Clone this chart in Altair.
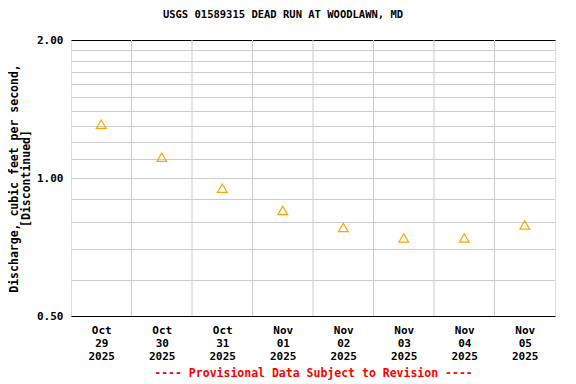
import altair as alt
import pandas as pd

# Daily mean discharge (cfs), plotted at noon of each day
dates = ["2025-10-29T12:00:00Z", "2025-10-30T12:00:00Z", "2025-10-31T12:00:00Z",
         "2025-11-01T12:00:00Z", "2025-11-02T12:00:00Z", "2025-11-03T12:00:00Z",
         "2025-11-04T12:00:00Z", "2025-11-05T12:00:00Z"]
discharge = [1.31, 1.11, 0.95, 0.85, 0.78, 0.74, 0.74, 0.79]

# day boundaries for vertical gridlines
day_bounds = ["2025-10-30T00:00:00Z", "2025-10-31T00:00:00Z", "2025-11-01T00:00:00Z",
              "2025-11-02T00:00:00Z", "2025-11-03T00:00:00Z", "2025-11-04T00:00:00Z",
              "2025-11-05T00:00:00Z"]

y_grid_values = [0.5, 0.6, 0.7, 0.8, 0.9, 1.0, 1.1, 1.2, 1.3, 1.4, 1.5,
                 1.6, 1.7, 1.8, 1.9, 2.0]
label_days = [(2025, 10, 29), (2025, 10, 30), (2025, 10, 31), (2025, 11, 1),
              (2025, 11, 2), (2025, 11, 3), (2025, 11, 4), (2025, 11, 5)]

df = pd.DataFrame({"date": dates, "q": discharge})
grid_df = pd.DataFrame({"date": day_bounds})

FONT = "DejaVu Sans Mono"

x_scale = alt.Scale(
    type="utc",
    domain=[alt.DateTime(year=2025, month=10, date=29, utc=True),
            alt.DateTime(year=2025, month=11, date=6, utc=True)],
)

x_axis = alt.Axis(
    values=[alt.DateTime(year=y, month=m, date=d, hours=12, utc=True) for y, m, d in label_days],
    labelExpr="[utcFormat(datum.value, '%b'), utcFormat(datum.value, '%d'), utcFormat(datum.value, '%Y')]",
    grid=False, ticks=False, domain=False,
    labelFont=FONT, labelFontWeight="bold", labelFontSize=11, labelColor="black",
    labelLineHeight=13, labelPadding=8, labelBaseline="top", labelAngle=0,
    title="---- Provisional Data Subject to Revision ----",
    titleColor="red", titleFont=FONT, titleFontWeight="bold", titleFontSize=11.5,
    titlePadding=6,
)

y_axis = alt.Axis(
    values=y_grid_values,
    labelExpr="(datum.value == 0.5 || datum.value == 1 || datum.value == 2) ? format(datum.value, '.2f') : ''",
    grid=True,
    gridColor={"condition": {"test": "datum.value == 0.5 || datum.value == 2", "value": "black"},
               "value": "#cccccc"},
    gridWidth=1, ticks=False, domain=False,
    labelFont=FONT, labelFontWeight="bold", labelFontSize=11, labelColor="black",
    labelPadding=8,
    title=["Discharge, cubic feet per second,", "[Discontinued]"],
    titleFont=FONT, titleFontWeight="bold", titleFontSize=11.5, titleColor="black",
    titleLineHeight=12, titlePadding=5,
)

rules = alt.Chart(grid_df).mark_rule(color="#cccccc", strokeWidth=1).encode(
    x=alt.X("date:T", scale=x_scale, axis=x_axis)
)

points = alt.Chart(df).mark_point(
    shape="triangle-up", filled=False, color="#FFA500", size=95, strokeWidth=1.2, opacity=1
).encode(
    x=alt.X("date:T", scale=x_scale, axis=x_axis),
    y=alt.Y("q:Q", scale=alt.Scale(type="log", domain=[0.5, 2.0], nice=False), axis=y_axis),
)

chart = alt.layer(rules, points).properties(
    width=484,
    height=276,
    title=alt.TitleParams(
        "USGS 01589315 DEAD RUN AT WOODLAWN, MD",
        font=FONT, fontWeight="bold", fontSize=10.5, color="black",
        anchor="middle", dx=-30, offset=14,
    ),
    autosize=alt.AutoSizeParams(type="none"),
    padding={"left": 63, "top": 32, "right": 13, "bottom": 66},
).configure_view(
    stroke="black", strokeWidth=1
).configure(background="white")

chart.save("out.html", embed_options={"renderer": "svg", "actions": False})
